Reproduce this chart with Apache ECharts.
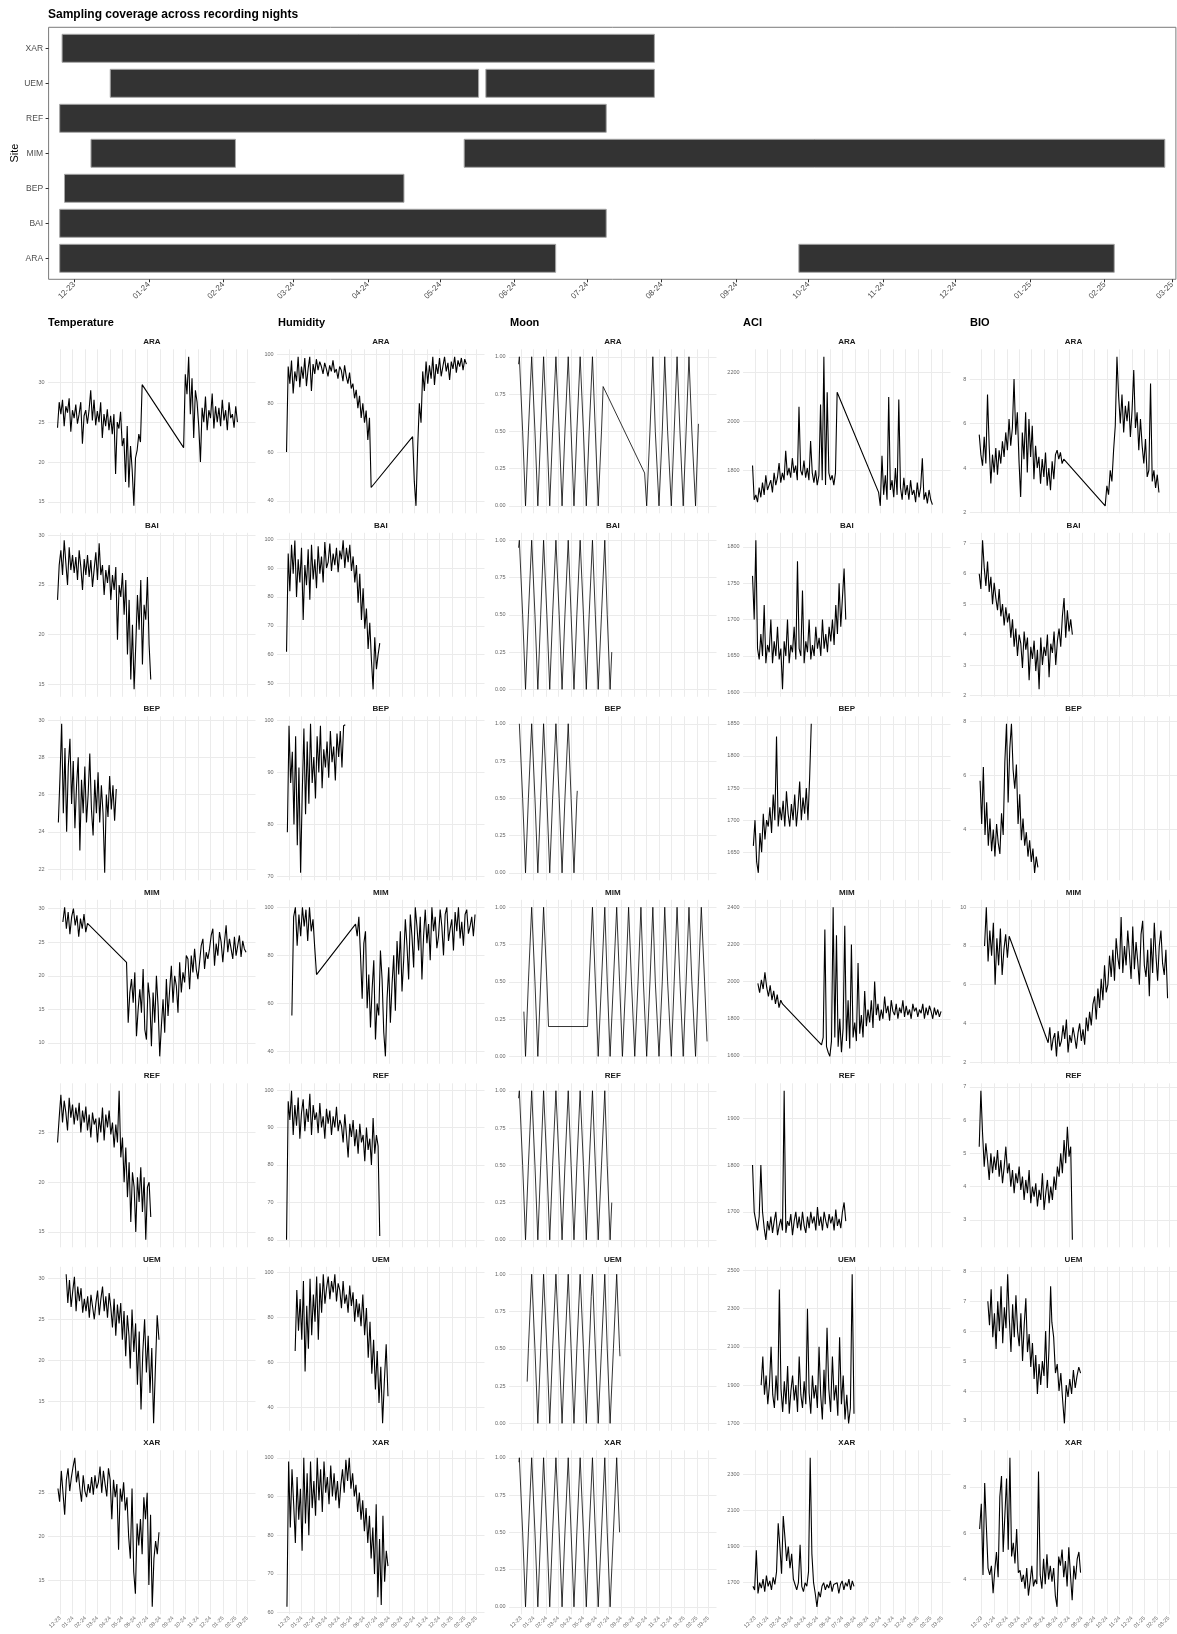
<!DOCTYPE html>
<html><head><meta charset="utf-8">
<script src="https://cdn.jsdelivr.net/npm/echarts@6/dist/echarts.min.js"></script>
<style>html,body{margin:0;padding:0;background:#fff}#c{width:1177px;height:1634px}</style>
</head><body><div id="c"></div><script>
// ---------- axis / category data ----------
const sites = ['ARA','BAI','BEP','MIM','REF','UEM','XAR'];
const variables = ['Temperature','Humidity','Moon','ACI','BIO'];
// days since 2023-12-01
const monthTickDays = [0,31,62,91,122,152,183,213,244,275,305,336,366,397,428,456];
const monthTickLabels = ['12-23','01-24','02-24','03-24','04-24','05-24','06-24','07-24','08-24','09-24','10-24','11-24','12-24','01-25','02-25','03-25'];
// recording segments [startDay, endDay]
const seg_ARA = [[-6,200],[301,432]];
const seg_BAI = [[-6,221]];
const seg_BEP = [[-4,137]];
const seg_MIM = [[7,67],[162,453]];
const seg_REF = [[-6,221]];
const seg_UEM = [[15,168],[171,241]];
const seg_XAR = [[-5,241]];

// ---------- Temperature ----------
const temp_ARA = [[24.3,27.5,26.0,27.8,24.5,27.0,26.2,28.0,23.8,26.5,25.5,27.2,24.8,26.0,27.5,22.3,25.8,26.5,24.8,26.5,29.0,25.2,27.8,24.6,26.4,25.0,27.5,23.0,26.0,24.5,26.6,24.0,25.8,23.5,26.0,18.5,25.0,24.2,26.3,22.0,23.0,17.5,24.5,16.8,22.0,19.0,14.5,20.5,21.5,23.5,22.5,29.7],
 [21.8,31.0,28.5,33.2,26.0,30.5,23.0,29.0,27.5,24.5,20.0,26.8,25.0,28.2,24.0,26.5,25.5,28.6,24.2,27.0,25.0,26.8,24.5,27.8,25.2,26.5,24.0,27.5,25.5,26.0,24.3,27.0,25.0]];
const temp_BAI = [[23.5,27.0,28.5,26.0,29.5,27.2,25.0,28.8,26.5,28.0,26.2,27.8,25.5,28.5,26.8,24.5,27.6,26.0,28.0,25.8,27.5,24.8,26.6,28.3,25.5,29.2,26.0,27.0,24.0,26.5,25.2,27.0,23.5,26.0,24.5,26.8,19.5,25.0,23.8,26.2,22.0,25.5,18.0,23.5,15.5,21.0,14.5,19.0,24.0,20.5,25.5,17.0,23.0,21.5,25.8,19.0,15.5]];
const temp_BEP = [[24.5,27.0,29.8,25.0,28.5,24.0,27.5,29.0,25.5,27.8,24.2,26.5,28.0,23.0,26.8,25.0,27.5,24.5,26.0,28.2,25.2,23.8,26.8,25.0,27.2,24.5,26.5,25.0,21.8,26.0,24.8,27.0,25.2,26.5,24.6,26.3]];
const temp_MIM = [[28.0,30.2,27.0,29.5,26.2,28.8,30.0,27.5,29.0,25.8,28.5,27.0,29.2,26.5,27.8],
 [22.0,13.0,17.5,19.5,16.0,20.5,11.0,15.0,18.0,14.5,21.0,12.0,10.5,19.0,16.5,9.5,17.5,13.0,20.0,15.5,8.0,12.5,16.5,11.5,19.5,14.0,18.0,21.5,16.0,20.0,18.5,14.5,22.0,17.5,20.5,19.0,23.0,22.5,18.0,23.0,20.5,24.0,21.0,19.5,22.0,24.5,25.5,21.0,23.5,22.5,24.0,26.0,27.0,21.5,24.8,23.0,26.5,25.0,22.0,25.0,27.5,23.5,25.5,24.0,22.5,25.8,23.0,24.5,26.0,22.8,25.2,24.0,23.5]];
const temp_REF = [[24.0,26.5,28.8,26.0,28.2,27.0,25.2,28.5,26.5,27.8,25.8,27.5,26.2,28.0,25.0,27.2,26.0,27.6,25.2,26.8,24.5,27.0,25.8,26.4,24.0,26.5,25.0,27.5,24.2,26.8,25.5,27.2,24.8,26.0,23.5,25.8,24.0,29.2,22.5,24.5,20.0,23.5,18.5,22.0,16.0,21.0,19.5,15.0,20.5,18.0,21.5,17.0,20.5,14.2,19.5,20.0,16.5]];
const temp_UEM = [[30.5,27.0,29.8,26.5,28.5,30.2,26.0,29.0,27.2,28.8,25.8,27.5,26.0,27.8,25.2,28.0,26.5,25.0,27.0,28.5,25.5,27.5,29.0,26.0,27.8,25.2,28.2,26.5,24.0,27.5,23.0,26.8,24.5,27.0,22.5,26.0,20.5,25.5,23.0],
 [19.0,26.2,21.0,24.5,17.0,23.5,14.0,21.0,25.0,18.5,23.0,16.0,21.5,12.3,19.0,25.5,22.5]];
const temp_XAR = [[25.5,24.0,27.5,25.0,22.5,26.5,27.8,25.2,26.8,28.0,29.0,26.2,27.5,25.5,24.0,27.0,25.2,24.5,26.0,25.0,26.8,24.8,27.0,25.5,26.2,28.0,25.0,27.5,26.0,24.6,27.8,26.5,22.0,26.5,24.5,26.0,18.5,25.5,24.0,26.2,23.0,24.5,20.0,17.5,25.5,16.0,13.5,21.5,19.0,22.0,18.0,24.5,22.0,25.0,14.5,22.5,12.0,17.5,19.5,18.0,20.5]];

// ---------- Humidity ----------
const hum_ARA = [[60.0,95.0,88.0,97.5,84.0,93.0,89.0,99.0,86.5,95.0,90.0,98.5,87.0,94.0,99.0,85.0,96.0,92.0,98.0,93.5,97.0,95.0,92.0,96.5,94.0,91.0,95.5,93.0,97.5,92.5,94.0,90.0,95.0,93.5,89.0,95.5,91.0,88.0,92.5,86.0,88.0,82.0,85.5,78.0,83.0,74.0,80.0,72.0,77.0,65.0,74.0,45.5],
 [66.3,48.0,38.0,62.0,80.0,72.0,93.0,85.0,97.0,88.0,95.5,90.0,99.0,87.5,96.0,92.0,98.5,91.0,95.0,99.0,93.0,96.5,89.5,97.0,94.0,99.0,92.5,97.5,95.0,98.5,93.5,98.0,96.0]];
const hum_BAI = [[61.0,95.0,82.0,98.0,88.0,99.5,80.0,93.0,85.0,97.0,72.0,91.0,84.0,96.5,79.0,98.0,86.0,93.0,83.0,97.5,88.0,94.0,85.0,99.0,90.0,92.0,98.5,89.0,95.0,91.0,97.0,88.5,96.0,93.0,99.6,90.0,97.0,92.0,98.0,89.0,94.0,85.0,91.0,78.0,88.0,72.0,83.0,69.0,76.0,62.0,71.0,58.0,48.0,66.0,55.0,60.0,64.0]];
const hum_BEP = [[78.5,99.0,88.0,94.0,80.0,97.0,76.0,91.0,70.7,86.0,98.5,82.0,96.0,84.0,99.4,88.0,93.0,85.0,97.0,90.0,99.0,87.0,94.5,91.0,96.0,89.0,98.0,92.0,95.0,88.5,97.5,93.0,98.0,91.0,99.0,99.2]];
const hum_MIM = [[55.0,96.0,100.0,84.0,97.0,88.0,100.0,92.0,99.0,86.0,100.0,90.0,95.0,83.0,72.0],
 [93,88,96,80,62,85,90,58,72,50,66,78,45,60,55,82,70,48,38,62,75,52,68,80,57,86,72,90,65,78,95,84,70,97,88,75,100,92,82,96,70,88,99,85,93,78,100,90,96,83,88,99,92,80,97,100,86,91,95,82,98,90,100,87,94,84,97,99,89,92,96,88,97]];
const hum_REF = [[60.0,97.0,92.0,99.8,88.0,96.0,90.5,98.0,87.0,94.0,97.5,89.0,95.0,91.5,99.0,88.0,96.0,92.0,94.0,88.5,96.5,90.0,93.0,87.0,95.0,91.0,94.5,88.0,93.0,90.0,95.5,89.0,92.0,90.5,86.0,93.5,88.0,82.0,91.0,87.5,92.0,85.0,89.5,83.0,91.0,86.0,88.0,81.0,90.0,84.0,87.0,80.0,92.5,83.0,88.0,85.0,61.0]];
const hum_UEM = [[65.0,92.0,74.0,88.0,70.0,96.0,56.0,85.0,66.0,97.0,72.0,90.0,78.0,98.0,70.0,95.0,82.0,99.0,86.0,93.0,98.0,88.0,96.0,91.0,99.0,87.0,95.0,92.0,84.0,96.0,86.0,90.0,82.0,94.0,85.0,91.0,78.0,88.0,80.0],
 [86.0,76.0,90.0,72.0,84.0,62.0,78.0,55.0,70.0,48.0,65.0,42.0,58.0,33.0,52.0,68.0,45.0]];
const hum_XAR = [[61.5,99.0,82.0,97.0,88.0,78.0,95.0,84.0,92.0,76.0,100.0,83.0,96.0,80.0,99.0,87.0,94.0,85.0,100.0,89.0,97.0,86.0,99.0,91.0,95.0,88.0,98.0,90.0,96.0,89.0,94.0,87.0,93.0,97.0,91.0,99.5,94.0,100.0,92.0,96.0,90.0,93.0,86.0,91.0,84.0,89.0,81.0,87.0,78.0,85.0,74.0,82.0,70.0,88.0,64.0,79.0,62.0,85.0,68.0,76.0,72.0]];

// ---------- Moon (phase dates, days since 2023-12-01) ----------
const moonDays = [-4,4,11,18,26,34,41,48,55,63,70,77,85,93,100,107,115,122,129,136,144,152,159,166,174,181,188,196,204,210,217,225,233,240,247,255,262,269,277,285,292,298,306,314,321,327,336,344,350,357,366,373,380,387,395,402,409,416,425,432,439,447,455];
const moonVals = [1,0.5,0,0.5,1,0.5,0,0.5,1,0.5,0,0.5,1,0.5,0,0.5,1,0.5,0,0.5,1,0.5,0,0.5,1,0.5,0,0.5,1,0.5,0,0.5,1,0.5,0,0.5,1,0.5,0,0.5,1,0.5,0,0.5,1,0.5,0,0.5,1,0.5,0,0.5,1,0.5,0,0.5,1,0.5,0,0.5,1,0.5,0];
// illumination at the first / last night of each segment
const moonEdge_ARA = [[0.95,0.8],[0.22,0.55]];
const moonEdge_BAI = [[0.95,0.25]];
const moonEdge_BEP = [[1.0,0.55]];
const moonEdge_MIM = [[0.3,0.2],[0.2,0.1]];
const moonEdge_REF = [[0.95,0.25]];
const moonEdge_UEM = [[0.28,0.62],[0.85,0.45]];
const moonEdge_XAR = [[0.97,0.5]];

// ---------- ACI ----------
const aci_ARA = [[1820,1680,1700,1670,1730,1690,1750,1700,1780,1720,1740,1760,1710,1790,1740,1770,1830,1750,1790,1760,1880,1780,1810,1770,1850,1790,1820,1760,2060,1800,1780,1840,1770,1810,1760,1920,1790,1750,1800,1740,1780,2070,1760,2265,1740,2120,1790,1760,1780,1740,1790,2120],
 [1710,1655,1860,1700,1780,1680,2100,1720,1760,1690,1810,1700,2090,1730,1680,1770,1700,1740,1680,1760,1700,1720,1670,1750,1690,1730,1850,1680,1710,1665,1720,1680,1660]];
const aci_BAI = [[1760,1700,1809,1660,1645,1680,1650,1720,1640,1665,1655,1700,1640,1670,1650,1690,1645,1660,1604,1670,1650,1700,1640,1665,1655,1690,1645,1780,1660,1650,1740,1640,1670,1655,1700,1645,1665,1650,1690,1660,1675,1650,1700,1660,1680,1655,1690,1670,1700,1665,1720,1680,1750,1690,1730,1770,1700]];
const aci_BEP = [[1660,1700,1635,1618,1680,1650,1710,1670,1700,1690,1720,1680,1740,1700,1830,1690,1720,1700,1730,1690,1745,1710,1690,1725,1700,1740,1690,1720,1760,1700,1735,1710,1750,1700,1765,1850]];
const aci_MIM = [[1990,1940,2010,1960,2050,1970,1920,1980,1900,1950,1880,1930,1860,1900,1880],
 [1660,1700,2280,1650,1620,1598,1680,2400,1700,2250,1650,1800,1620,1750,2300,1680,1900,1640,2200,1700,1780,1680,2100,1720,1820,1700,1950,1760,1850,1780,1900,1750,2000,1820,1880,1790,1850,1800,1920,1830,1870,1790,1900,1840,1820,1880,1800,1860,1830,1900,1810,1870,1820,1850,1800,1880,1840,1860,1810,1850,1830,1880,1800,1860,1820,1870,1840,1800,1860,1820,1850,1810,1840]];
const aci_REF = [[1800,1700,1680,1660,1690,1800,1700,1665,1640,1680,1660,1690,1655,1680,1700,1650,1670,1685,1660,1959,1655,1680,1670,1695,1650,1680,1700,1665,1690,1660,1700,1670,1655,1690,1665,1700,1675,1690,1660,1710,1670,1690,1660,1700,1680,1665,1695,1675,1690,1660,1705,1670,1685,1665,1700,1720,1680]];
const aci_UEM = [[1900,2050,1850,1950,1800,1900,2100,1850,1780,1950,1820,2400,1880,1760,1920,1800,2000,1750,1870,1950,1820,1900,1760,2050,1850,1780,1920,1800,2300,1860,1750,1950,1830,1900,1780,2100,1850,1720,1980],
 [1800,2200,1880,1760,2050,1820,1900,1740,2150,1800,1950,1720,1850,1700,1780,2480,1750]];
const aci_XAR = [[1680,1660,1880,1640,1700,1670,1720,1650,1740,1680,1710,1660,1730,1690,1760,2030,1900,1750,2070,1950,1820,1900,1780,1860,1720,1690,1660,1700,1910,1680,1650,1700,1680,1760,2393,1860,1700,1640,1566,1650,1620,1680,1700,1660,1690,1670,1710,1650,1690,1680,1700,1640,1690,1710,1660,1700,1680,1720,1660,1710,1680]];

// ---------- BIO ----------
const bio_ARA = [[5.5,4.6,4.1,5.4,4.2,7.3,5.0,3.3,4.6,3.8,4.9,3.7,4.8,4.2,5.2,4.5,5.6,4.8,6.2,5.0,5.8,8.0,5.5,6.5,4.3,2.7,5.6,4.4,6.5,3.8,6.2,4.5,5.9,3.5,5.0,4.0,4.5,3.3,4.4,3.6,4.7,3.2,4.0,3.0,4.3,3.5,4.6,4.8,4.4,4.7,4.2,4.4],
 [2.3,3.2,2.8,3.9,3.4,4.8,5.9,9.0,7.2,6.0,7.3,5.6,6.8,6.1,7.0,5.4,6.6,8.4,5.8,6.5,4.8,6.2,5.0,4.2,5.3,3.6,3.9,7.8,3.4,3.9,3.1,3.7,2.9]];
const bio_BAI = [[6.0,5.5,7.1,6.2,5.6,6.4,5.4,5.9,5.0,5.7,5.2,4.8,5.5,4.6,5.0,4.3,4.9,4.4,4.7,3.9,4.5,3.6,4.2,3.3,4.0,3.7,2.9,4.1,3.5,3.9,2.5,3.6,3.2,3.8,2.8,3.5,2.2,3.9,3.0,3.6,3.3,4.0,2.6,3.7,3.4,4.1,3.0,3.8,4.2,3.6,4.6,5.2,3.9,4.8,4.1,4.5,4.0]];
const bio_BEP = [[5.8,4.2,6.3,3.8,5.0,3.4,4.4,3.2,4.0,3.0,4.2,3.5,3.1,4.6,3.8,6.5,7.9,5.0,7.0,7.9,6.2,5.5,6.4,4.2,5.3,3.6,4.4,3.4,3.9,3.0,3.6,2.8,3.3,2.4,3.0,2.6]];
const bio_MIM = [[8.0,10.0,7.2,8.8,7.5,9.2,6.0,8.4,7.0,8.9,6.5,7.8,8.6,7.4,8.5],
 [3.0,3.8,2.6,3.2,3.5,2.3,3.6,2.8,3.1,3.9,3.2,4.2,2.5,3.4,3.0,3.8,3.3,2.7,3.5,4.0,3.1,3.7,2.9,4.3,3.6,4.6,3.9,5.0,5.4,4.2,5.8,4.8,6.3,5.2,7.0,5.6,6.0,7.5,6.4,7.8,6.2,8.4,7.4,6.8,9.5,6.6,8.0,7.0,8.8,7.6,6.3,9.0,6.8,8.2,7.2,6.0,8.6,9.3,7.0,6.4,7.8,5.4,8.4,6.6,9.2,7.5,6.2,8.0,8.8,7.1,6.5,7.8,5.3]];
const bio_REF = [[5.2,6.88,5.6,4.6,5.3,4.8,4.2,5.0,4.4,4.9,4.5,5.1,4.3,4.8,4.1,4.6,5.2,4.4,4.7,4.0,4.5,3.8,4.4,4.1,4.6,3.9,4.3,3.6,4.2,3.8,4.5,3.5,4.0,3.7,4.1,3.4,3.9,3.6,4.4,3.3,3.8,4.2,3.5,4.0,3.6,4.3,3.9,4.6,4.3,5.0,4.4,5.4,4.7,5.8,4.9,5.2,2.4]];
const bio_UEM = [[7.0,6.2,7.4,5.8,6.6,5.4,7.0,6.0,7.5,5.6,6.8,6.1,7.9,6.4,5.3,6.9,5.8,7.2,6.0,5.5,6.6,5.0,6.2,7.1,5.3,5.9,4.8,5.6,4.4,5.2,3.9,4.9,4.2,5.0,4.5,6.0,4.1,5.4,7.5],
 [6.3,5.8,4.6,4.9,4.0,4.6,3.7,2.92,4.2,3.8,4.4,3.9,4.7,4.1,4.5,4.8,4.6]];
const bio_XAR = [[6.2,7.3,4.2,8.2,6.3,4.5,4.2,4.6,3.4,4.4,5.2,4.1,7.6,8.5,5.2,6.8,8.4,5.3,9.3,5.0,5.6,4.7,6.2,4.3,4.4,3.9,4.2,3.6,4.5,3.3,3.9,4.6,3.7,4.0,3.8,8.7,4.2,3.6,4.9,3.8,5.1,4.0,4.6,3.9,4.5,3.3,2.81,5.0,4.6,5.3,4.1,4.8,3.7,5.4,4.2,3.1,4.6,4.0,4.9,5.2,4.3]];

// ---------- y tick labels ----------
const ticks_Temperature = {ARA:[15,20,25,30],BAI:[15,20,25,30],BEP:[22,24,26,28,30],MIM:[10,15,20,25,30],REF:[15,20,25,30],UEM:[15,20,25,30],XAR:[15,20,25,30]};
const ticks_Humidity = {ARA:[40,60,80,100],BAI:[50,60,70,80,90,100],BEP:[70,80,90,100],MIM:[40,60,80,100],REF:[60,70,80,90,100],UEM:[40,60,80,100],XAR:[60,70,80,90,100]};
const ticks_Moon = [0,0.25,0.5,0.75,1];
const ticks_ACI = {ARA:[1600,1800,2000,2200],BAI:[1600,1650,1700,1750,1800],BEP:[1650,1700,1750,1800,1850],MIM:[1600,1800,2000,2200,2400],REF:[1700,1800,1900],UEM:[1700,1900,2100,2300,2500],XAR:[1700,1900,2100,2300]};
const ticks_BIO = {ARA:[2,4,6,8],BAI:[2,3,4,5,6,7],BEP:[2,4,6,8],MIM:[2,4,6,8,10],REF:[3,4,5,6,7],UEM:[3,4,5,6,7,8],XAR:[2,4,6,8]};

// ---------- build ----------
const SEG = {ARA:seg_ARA,BAI:seg_BAI,BEP:seg_BEP,MIM:seg_MIM,REF:seg_REF,UEM:seg_UEM,XAR:seg_XAR};
const DATA = {
  Temperature:{ARA:temp_ARA,BAI:temp_BAI,BEP:temp_BEP,MIM:temp_MIM,REF:temp_REF,UEM:temp_UEM,XAR:temp_XAR},
  Humidity:{ARA:hum_ARA,BAI:hum_BAI,BEP:hum_BEP,MIM:hum_MIM,REF:hum_REF,UEM:hum_UEM,XAR:hum_XAR},
  ACI:{ARA:aci_ARA,BAI:aci_BAI,BEP:aci_BEP,MIM:aci_MIM,REF:aci_REF,UEM:aci_UEM,XAR:aci_XAR},
  BIO:{ARA:bio_ARA,BAI:bio_BAI,BEP:bio_BEP,MIM:bio_MIM,REF:bio_REF,UEM:bio_UEM,XAR:bio_XAR}
};
const MOONEDGE = {ARA:moonEdge_ARA,BAI:moonEdge_BAI,BEP:moonEdge_BEP,MIM:moonEdge_MIM,REF:moonEdge_REF,UEM:moonEdge_UEM,XAR:moonEdge_XAR};
const TICKS = {Temperature:ticks_Temperature,Humidity:ticks_Humidity,ACI:ticks_ACI,BIO:ticks_BIO};

function segPoints(segs, vals){
  const pts=[];
  segs.forEach((sg,k)=>{const v=vals[k];const n=v.length;
    v.forEach((y,i)=>pts.push([sg[0]+(sg[1]-sg[0])*i/(n-1), y]));});
  return pts;
}
function moonPoints(site){
  const pts=[];
  SEG[site].forEach((sg,k)=>{const ed=MOONEDGE[site][k];
    pts.push([sg[0],ed[0]]);
    moonDays.forEach((d,i)=>{ if(d>sg[0]&&d<sg[1]) pts.push([d,moonVals[i]]); });
    pts.push([sg[1],ed[1]]);});
  return pts;
}
const FONT='"Liberation Sans", Arial, sans-serif';
const fmtMonth = v => monthTickLabels[monthTickDays.indexOf(v)];
const PPD=0.4107, XMIN=-29, XMAX=476;
const colX=[60,289,521,755,981.7];
const colTitleX=[48,278,510,743,970];
const rowTop0=349.3, rowPitch=183.5, panelH=164;
const panelW=(XMAX-XMIN)*PPD;

const grid=[],xAxis=[],yAxis=[],series=[],graphic=[];
// top coverage chart
grid.push({left:48.6,top:27.3,width:1127.4,height:252,show:true,borderColor:'#7a7a7a',borderWidth:1,backgroundColor:'transparent'});
xAxis.push({type:'value',gridIndex:0,min:-10.6,max:457.6,axisLine:{show:false,onZero:false},splitLine:{show:false},
  axisTick:{show:true,customValues:monthTickDays,length:3,lineStyle:{color:'#333',width:1}},
  axisLabel:{customValues:monthTickDays,formatter:fmtMonth,rotate:45,fontSize:8,color:'#4d4d4d',margin:4,fontFamily:FONT}});
yAxis.push({type:'value',gridIndex:0,min:0.4,max:7.6,axisLine:{show:false,onZero:false},splitLine:{show:false},
  axisTick:{show:true,customValues:[1,2,3,4,5,6,7],length:3,lineStyle:{color:'#333',width:1}},
  axisLabel:{customValues:[1,2,3,4,5,6,7],formatter:v=>sites[Math.round(v)-1],fontSize:8.5,color:'#4d4d4d',margin:5.5,fontFamily:FONT}});
const bars=[];
sites.forEach((s,i)=>SEG[s].forEach(sg=>bars.push([sg[0],sg[1],i+1])));
series.push({type:'custom',xAxisIndex:0,yAxisIndex:0,data:bars,silent:true,encode:{x:[0,1],y:2},
  renderItem:(params,api)=>{
    const y=api.value(2);const a=api.coord([api.value(0),y]);const b=api.coord([api.value(1),y]);
    const h=api.size([0,0.8])[1];
    return {type:'rect',shape:{x:a[0],y:a[1]-h/2,width:b[0]-a[0],height:h},style:{fill:'#333333',stroke:'#a6a6a6',lineWidth:1}};
  }});
graphic.push({type:'text',x:48,y:15,style:{text:'Sampling coverage across recording nights',fontSize:12,fontWeight:'bold',fontFamily:FONT,fill:'#000',align:'left',verticalAlign:'middle'}});
graphic.push({type:'text',x:14.5,y:153,rotation:Math.PI/2,style:{text:'Site',fontSize:11,fontFamily:FONT,fill:'#000',align:'center',verticalAlign:'middle'}});

variables.forEach((vn,c)=>{
  graphic.push({type:'text',x:colTitleX[c],y:323,style:{text:vn,fontSize:11,fontWeight:'bold',fontFamily:FONT,fill:'#000',align:'left',verticalAlign:'middle'}});
  sites.forEach((s,r)=>{
    const idx=grid.length;
    const pts = vn==='Moon' ? moonPoints(s) : segPoints(SEG[s], DATA[vn][s]);
    const ys=pts.map(p=>p[1]);const mn=Math.min(...ys),mx=Math.max(...ys),pad=(mx-mn)*0.05;
    const lo=mn-pad,hi=mx+pad;
    const tk=(vn==='Moon'?ticks_Moon:TICKS[vn][s]).filter(t=>t>=lo&&t<=hi);
    const left=colX[c]+XMIN*PPD, top=rowTop0+r*rowPitch;
    grid.push({left:left,top:top,width:panelW,height:panelH,show:false});
    xAxis.push({type:'value',gridIndex:idx,min:XMIN,max:XMAX,axisLine:{show:false,onZero:false},axisTick:{show:false},splitLine:{show:false},
      axisLabel: r===sites.length-1 ? {customValues:monthTickDays,formatter:fmtMonth,rotate:45,fontSize:5.5,color:'#666',margin:3,fontFamily:FONT} : {show:false}});
    yAxis.push({type:'value',gridIndex:idx,min:lo,max:hi,axisLine:{show:false,onZero:false},axisTick:{show:false},splitLine:{show:false},
      axisLabel:{customValues:tk,formatter:v=>vn==='Moon'?v.toFixed(2):String(v),fontSize:5.5,color:'#666',margin:3.5,fontFamily:FONT}});
    series.push({type:'line',xAxisIndex:idx,yAxisIndex:idx,data:pts,showSymbol:false,symbol:'none',silent:true,z:2,
      lineStyle:{color:'#000',width:vn==='Moon'?0.8:1.1},
      markLine:{silent:true,symbol:['none','none'],z:1,animation:false,label:{show:false},
        lineStyle:{color:'#ebebeb',width:1,type:'solid'},
        data:[...tk.map(v=>({yAxis:v})),...monthTickDays.map(d=>({xAxis:d}))]}});
    graphic.push({type:'text',x:left+panelW/2,y:top-7.5,style:{text:s,fontSize:8,fontWeight:'bold',fontFamily:FONT,fill:'#1a1a1a',align:'center',verticalAlign:'middle'}});
  });
});

const chart=echarts.init(document.getElementById('c'),null,{renderer:'canvas',width:1177,height:1634});
chart.setOption({animation:false,backgroundColor:'#fff',grid,xAxis,yAxis,series,graphic});
</script></body></html>
